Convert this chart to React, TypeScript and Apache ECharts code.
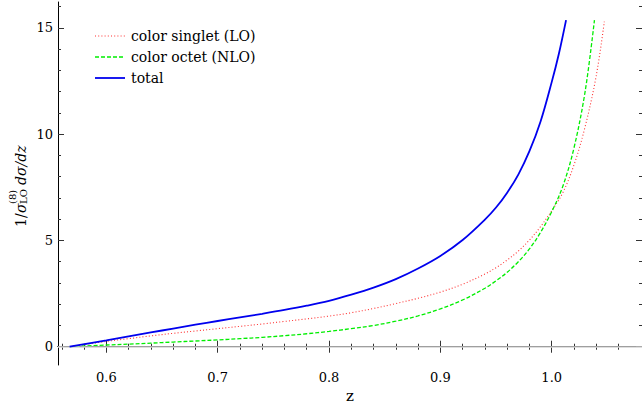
import React, { useEffect, useRef } from "react";
import * as echarts from "echarts";

// ---- data ----
const zSinglet = [0.567, 0.6, 0.62, 0.64, 0.66, 0.68, 0.7, 0.72, 0.74, 0.76, 0.78, 0.8, 0.82, 0.84, 0.86, 0.88, 0.9, 0.92, 0.94, 0.95, 0.96, 0.97, 0.98, 0.99, 1.0, 1.01, 1.02, 1.03, 1.04, 1.0473];
const vSinglet = [0, 0.25, 0.38, 0.51, 0.63, 0.74, 0.85, 0.96, 1.07, 1.19, 1.31, 1.44, 1.6, 1.8, 2.03, 2.28, 2.57, 2.94, 3.42, 3.72, 4.08, 4.5, 5.02, 5.65, 6.4, 7.25, 8.55, 10.35, 12.75, 15.3];

const zOctet = [0.567, 0.6, 0.62, 0.64, 0.66, 0.68, 0.7, 0.72, 0.74, 0.76, 0.78, 0.8, 0.82, 0.84, 0.86, 0.88, 0.9, 0.92, 0.94, 0.95, 0.96, 0.97, 0.98, 0.99, 1.0, 1.01, 1.02, 1.03, 1.0384];
const vOctet = [0, 0.08, 0.12, 0.17, 0.22, 0.27, 0.32, 0.38, 0.44, 0.52, 0.61, 0.72, 0.85, 1.0, 1.2, 1.45, 1.78, 2.2, 2.75, 3.1, 3.5, 4.0, 4.6, 5.38, 6.35, 7.55, 9.35, 12.0, 15.37];

const zTotal = [0.567, 0.6, 0.62, 0.64, 0.66, 0.68, 0.7, 0.72, 0.74, 0.76, 0.78, 0.8, 0.82, 0.84, 0.86, 0.88, 0.9, 0.92, 0.94, 0.95, 0.96, 0.97, 0.98, 0.99, 1.0, 1.0065, 1.0129];
const vTotal = [0, 0.3, 0.485, 0.67, 0.855, 1.035, 1.21, 1.38, 1.55, 1.73, 1.93, 2.16, 2.45, 2.78, 3.18, 3.68, 4.27, 5.02, 5.98, 6.55, 7.25, 8.1, 9.2, 10.6, 12.45, 13.8, 15.37];

const seriesNames = ["color singlet (LO)", "color octet (NLO)", "total"];

const zTicks = [0.6, 0.7, 0.8, 0.9, 1.0];
const zMinorTicks = [0.56, 0.58, 0.62, 0.64, 0.66, 0.68, 0.72, 0.74, 0.76, 0.78, 0.82, 0.84, 0.86, 0.88, 0.92, 0.94, 0.96, 0.98, 1.02, 1.04, 1.06];
const vTicks = [0, 5, 10, 15];
const vMinorTicks = [1, 2, 3, 4, 6, 7, 8, 9, 11, 12, 13, 14, 16];

const X_MIN = 0.5566;
const X_MAX = 1.0811;
const Y_MIN = -0.86;
const Y_MAX = 16.22;

const FONT = "DejaVu Serif";
const COLORS = ["#ff3030", "#00ee00", "#0000ee"];
const DASHES: any[] = [[1, 2.2], [4, 2], null];
const WIDTHS = [1.1, 1.3, 1.8];

function zip(xs: number[], ys: number[]) {
  return xs.map((x, i) => [x, ys[i]]);
}

export default function App() {
  const ref = useRef<HTMLDivElement>(null);
  useEffect(() => {
    const chart = echarts.init(ref.current!, undefined, { renderer: "svg" });

    const tickStyle = { color: "#333", width: 1 };
    const axisLineStyle = { color: "#000", width: 1 };
    const xBase = { type: "value", min: X_MIN, max: X_MAX, splitLine: { show: false } };
    const yBase = { type: "value", min: Y_MIN, max: Y_MAX, splitLine: { show: false } };

    const legendGraphics: any[] = [];
    seriesNames.forEach((name, i) => {
      const y = 36 + i * 21;
      legendGraphics.push({
        type: "line",
        shape: { x1: 95, y1: y, x2: 125, y2: y },
        style: { stroke: COLORS[i], lineWidth: WIDTHS[i], lineDash: DASHES[i] || null },
      });
      legendGraphics.push({
        type: "text",
        x: 131,
        y,
        style: { text: name, fontFamily: FONT, fontSize: 14, fill: "#000", align: "left", verticalAlign: "middle" },
      });
    });

    const small = (text: string, x: number, y: number) => ({
      type: "text",
      x,
      y,
      style: { text, fontFamily: FONT, fontSize: 10, fill: "#000", align: "left", verticalAlign: "middle" },
    });

    const lineSeries = (i: number, xs: number[], ys: number[], extra: any = {}) => ({
      name: seriesNames[i],
      type: "line",
      data: zip(xs, ys),
      symbol: "none",
      smooth: 0.35,
      z: 3 + i,
      lineStyle: { color: COLORS[i], width: WIDTHS[i], type: DASHES[i] || "solid" },
      ...extra,
    });

    const option: any = {
      animation: false,
      backgroundColor: "#fff",
      grid: { left: 58, top: 2, width: 589, height: 363, containLabel: false },
      xAxis: [
        {
          ...xBase,
          position: "bottom",
          axisLine: { show: true, lineStyle: axisLineStyle },
          axisTick: { show: true, inside: true, length: 6, customValues: zTicks, lineStyle: tickStyle },
          axisLabel: {
            show: true,
            customValues: zTicks,
            formatter: (v: number) => v.toFixed(1),
            fontFamily: FONT,
            fontSize: 13,
            color: "#000",
            margin: 6,
          },
          name: "z",
          nameLocation: "middle",
          nameGap: 31,
          nameTextStyle: { fontFamily: FONT, fontSize: 15, color: "#000", verticalAlign: "middle" },
        },
        {
          ...xBase,
          position: "bottom",
          axisLine: { show: false },
          axisTick: { show: true, inside: true, length: 3, customValues: zMinorTicks, lineStyle: tickStyle },
          axisLabel: { show: false },
        },
        {
          ...xBase,
          position: "top",
          axisLine: { show: true, lineStyle: axisLineStyle },
          axisTick: { show: true, inside: true, length: 6, customValues: zTicks, lineStyle: tickStyle },
          axisLabel: { show: false },
        },
        {
          ...xBase,
          position: "top",
          axisLine: { show: false },
          axisTick: { show: true, inside: true, length: 3, customValues: zMinorTicks, lineStyle: tickStyle },
          axisLabel: { show: false },
        },
      ],
      yAxis: [
        {
          ...yBase,
          position: "left",
          axisLine: { show: true, lineStyle: axisLineStyle },
          axisTick: { show: true, inside: true, length: 6, customValues: vTicks, lineStyle: tickStyle },
          axisLabel: { show: true, customValues: vTicks, fontFamily: FONT, fontSize: 13, color: "#000", margin: 5 },
        },
        {
          ...yBase,
          position: "left",
          axisLine: { show: false },
          axisTick: { show: true, inside: true, length: 3, customValues: vMinorTicks, lineStyle: tickStyle },
          axisLabel: { show: false },
        },
        {
          ...yBase,
          position: "right",
          axisLine: { show: true, lineStyle: axisLineStyle },
          axisTick: { show: true, inside: true, length: 6, customValues: vTicks, lineStyle: tickStyle },
          axisLabel: { show: false },
        },
        {
          ...yBase,
          position: "right",
          axisLine: { show: false },
          axisTick: { show: true, inside: true, length: 3, customValues: vMinorTicks, lineStyle: tickStyle },
          axisLabel: { show: false },
        },
      ],
      series: [
        lineSeries(0, zSinglet, vSinglet, {
          markLine: {
            silent: true,
            symbol: ["none", "none"],
            label: { show: false },
            lineStyle: { color: "#d4d4d4", width: 1.5, type: "solid" },
            data: [{ yAxis: 0 }],
          },
        }),
        lineSeries(1, zOctet, vOctet),
        lineSeries(2, zTotal, vTotal),
      ],
      graphic: [
        ...legendGraphics,
        {
          type: "group",
          x: 21,
          y: 227,
          rotation: Math.PI / 2,
          children: [
            {
              type: "text",
              x: 0,
              y: 0,
              style: {
                text: "{n|1/}{i|σ}{g|}{i| dσ/dz}",
                fontFamily: FONT,
                fontSize: 14,
                fill: "#000",
                align: "left",
                verticalAlign: "middle",
                rich: {
                  n: { fontFamily: FONT, fontSize: 14, fill: "#000", width: 14 },
                  i: { fontFamily: FONT, fontSize: 14, fontStyle: "italic", fill: "#000" },
                  g: { width: 14 },
                },
              },
            },
            small("(8)", 23, -9),
            small("LO", 23, 2),
          ],
        },
      ],
    };

    chart.setOption(option);
    return () => chart.dispose();
  }, []);

  return (
    <div
      ref={ref}
      style={{ position: "absolute", left: 0, top: 0, width: 642, height: 411, background: "#fff" }}
    />
  );
}
